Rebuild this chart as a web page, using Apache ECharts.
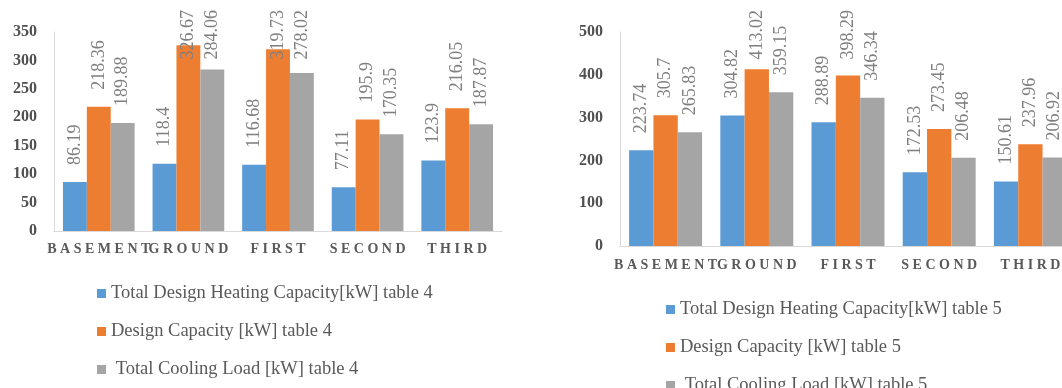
<!DOCTYPE html>
<html>
<head>
<meta charset="utf-8">
<script src="https://cdn.jsdelivr.net/npm/echarts@6/dist/echarts.min.js"></script>
<style>
  html, body { margin: 0; padding: 0; background: #fff; }
  #chart { width: 1062px; height: 388px; }
</style>
</head>
<body>
<div id="chart"></div>
<script>
// Floors shared by both panels
const floors = ['BASEMENT', 'GROUND', 'FIRST', 'SECOND', 'THIRD'];

// Table 4 (left panel)
const heatingT4 = [86.19, 118.4, 116.68, 77.11, 123.9];
const designT4 = [218.36, 326.67, 319.73, 195.9, 216.05];
const coolingT4 = [189.88, 284.06, 278.02, 170.35, 187.87];
const namesT4 = [
  'Total Design Heating Capacity[kW] table 4',
  'Design Capacity [kW] table 4',
  'Total Cooling Load [kW] table 4'
];

// Table 5 (right panel)
const heatingT5 = [223.74, 304.82, 288.89, 172.53, 150.61];
const designT5 = [305.7, 413.02, 398.29, 273.45, 237.96];
const coolingT5 = [265.83, 359.15, 346.34, 206.48, 206.92];
const namesT5 = [
  'Total Design Heating Capacity[kW] table 5',
  'Design Capacity [kW] table 5',
  'Total Cooling Load [kW] table 5'
];

const colors = ['#5B9BD5', '#ED7D31', '#A5A5A5'];
const serif = "'Liberation Serif', 'Times New Roman', serif";

const chart = echarts.init(document.getElementById('chart'), null, { renderer: 'canvas' });

function xAxisFor(gridIndex, margin) {
  return {
    type: 'category',
    gridIndex: gridIndex,
    data: floors,
    axisTick: { show: false },
    axisLine: { lineStyle: { color: '#D9D9D9', width: 1 } },
    axisLabel: {
      interval: 0,
      margin: margin,
      fontFamily: serif,
      fontWeight: 'bold',
      fontSize: 14,
      color: '#595959',
      formatter: v => v.split('').join(' ')
    }
  };
}

function yAxisFor(gridIndex, max, interval) {
  return {
    type: 'value',
    gridIndex: gridIndex,
    min: 0,
    max: max,
    interval: interval,
    splitLine: { show: false },
    axisTick: { show: false },
    axisLine: { show: true, lineStyle: { color: '#D9D9D9', width: 1 } },
    axisLabel: {
      margin: 17,
      fontFamily: serif,
      fontWeight: 'bold',
      fontSize: 16,
      color: '#505050'
    }
  };
}

function barSeries(name, data, colorIdx, axisIdx) {
  return {
    name: name,
    type: 'bar',
    xAxisIndex: axisIdx,
    yAxisIndex: axisIdx,
    data: data,
    barGap: '0%',
    barCategoryGap: '20%',
    itemStyle: { color: colors[colorIdx] },
    label: {
      show: true,
      position: 'top',
      distance: 17,
      rotate: 90,
      align: 'left',
      verticalAlign: 'middle',
      fontFamily: serif,
      fontSize: 18,
      color: '#7F7F7F'
    },
    // keep value labels inside the chart area, as the spreadsheet does
    labelLayout: function (p) {
      const r = p.labelRect;
      const topLimit = 10;
      if (r.y < topLimit) {
        return { x: r.x + r.width / 2, y: topLimit + r.height };
      }
      return {};
    }
  };
}

function legendFor(names, left, top) {
  return {
    data: names,
    orient: 'vertical',
    left: left,
    top: top,
    height: 200,
    itemWidth: 9,
    itemHeight: 9,
    itemGap: 19,
    icon: 'rect',
    textStyle: { fontFamily: serif, fontSize: 18.5, color: '#595959' },
    formatter: n => (n.indexOf('Total Cooling') === 0 ? ' ' + n : n)
  };
}

chart.setOption({
  backgroundColor: '#ffffff',
  animation: false,
  color: colors,
  grid: [
    { left: 54, top: 32, width: 448, height: 199, outerBoundsMode: 'none' },
    // the right panel runs past the page edge, its last bar is cut off
    { left: 620, top: 32, width: 456, height: 214, outerBoundsMode: 'none' }
  ],
  xAxis: [xAxisFor(0, 11), xAxisFor(1, 12)],
  yAxis: [yAxisFor(0, 350, 50), yAxisFor(1, 500, 100)],
  legend: [legendFor(namesT4, 92, 279), legendFor(namesT5, 661, 295)],
  series: [
    barSeries(namesT4[0], heatingT4, 0, 0),
    barSeries(namesT4[1], designT4, 1, 0),
    barSeries(namesT4[2], coolingT4, 2, 0),
    barSeries(namesT5[0], heatingT5, 0, 1),
    barSeries(namesT5[1], designT5, 1, 1),
    barSeries(namesT5[2], coolingT5, 2, 1)
  ]
});
</script>
</body>
</html>
